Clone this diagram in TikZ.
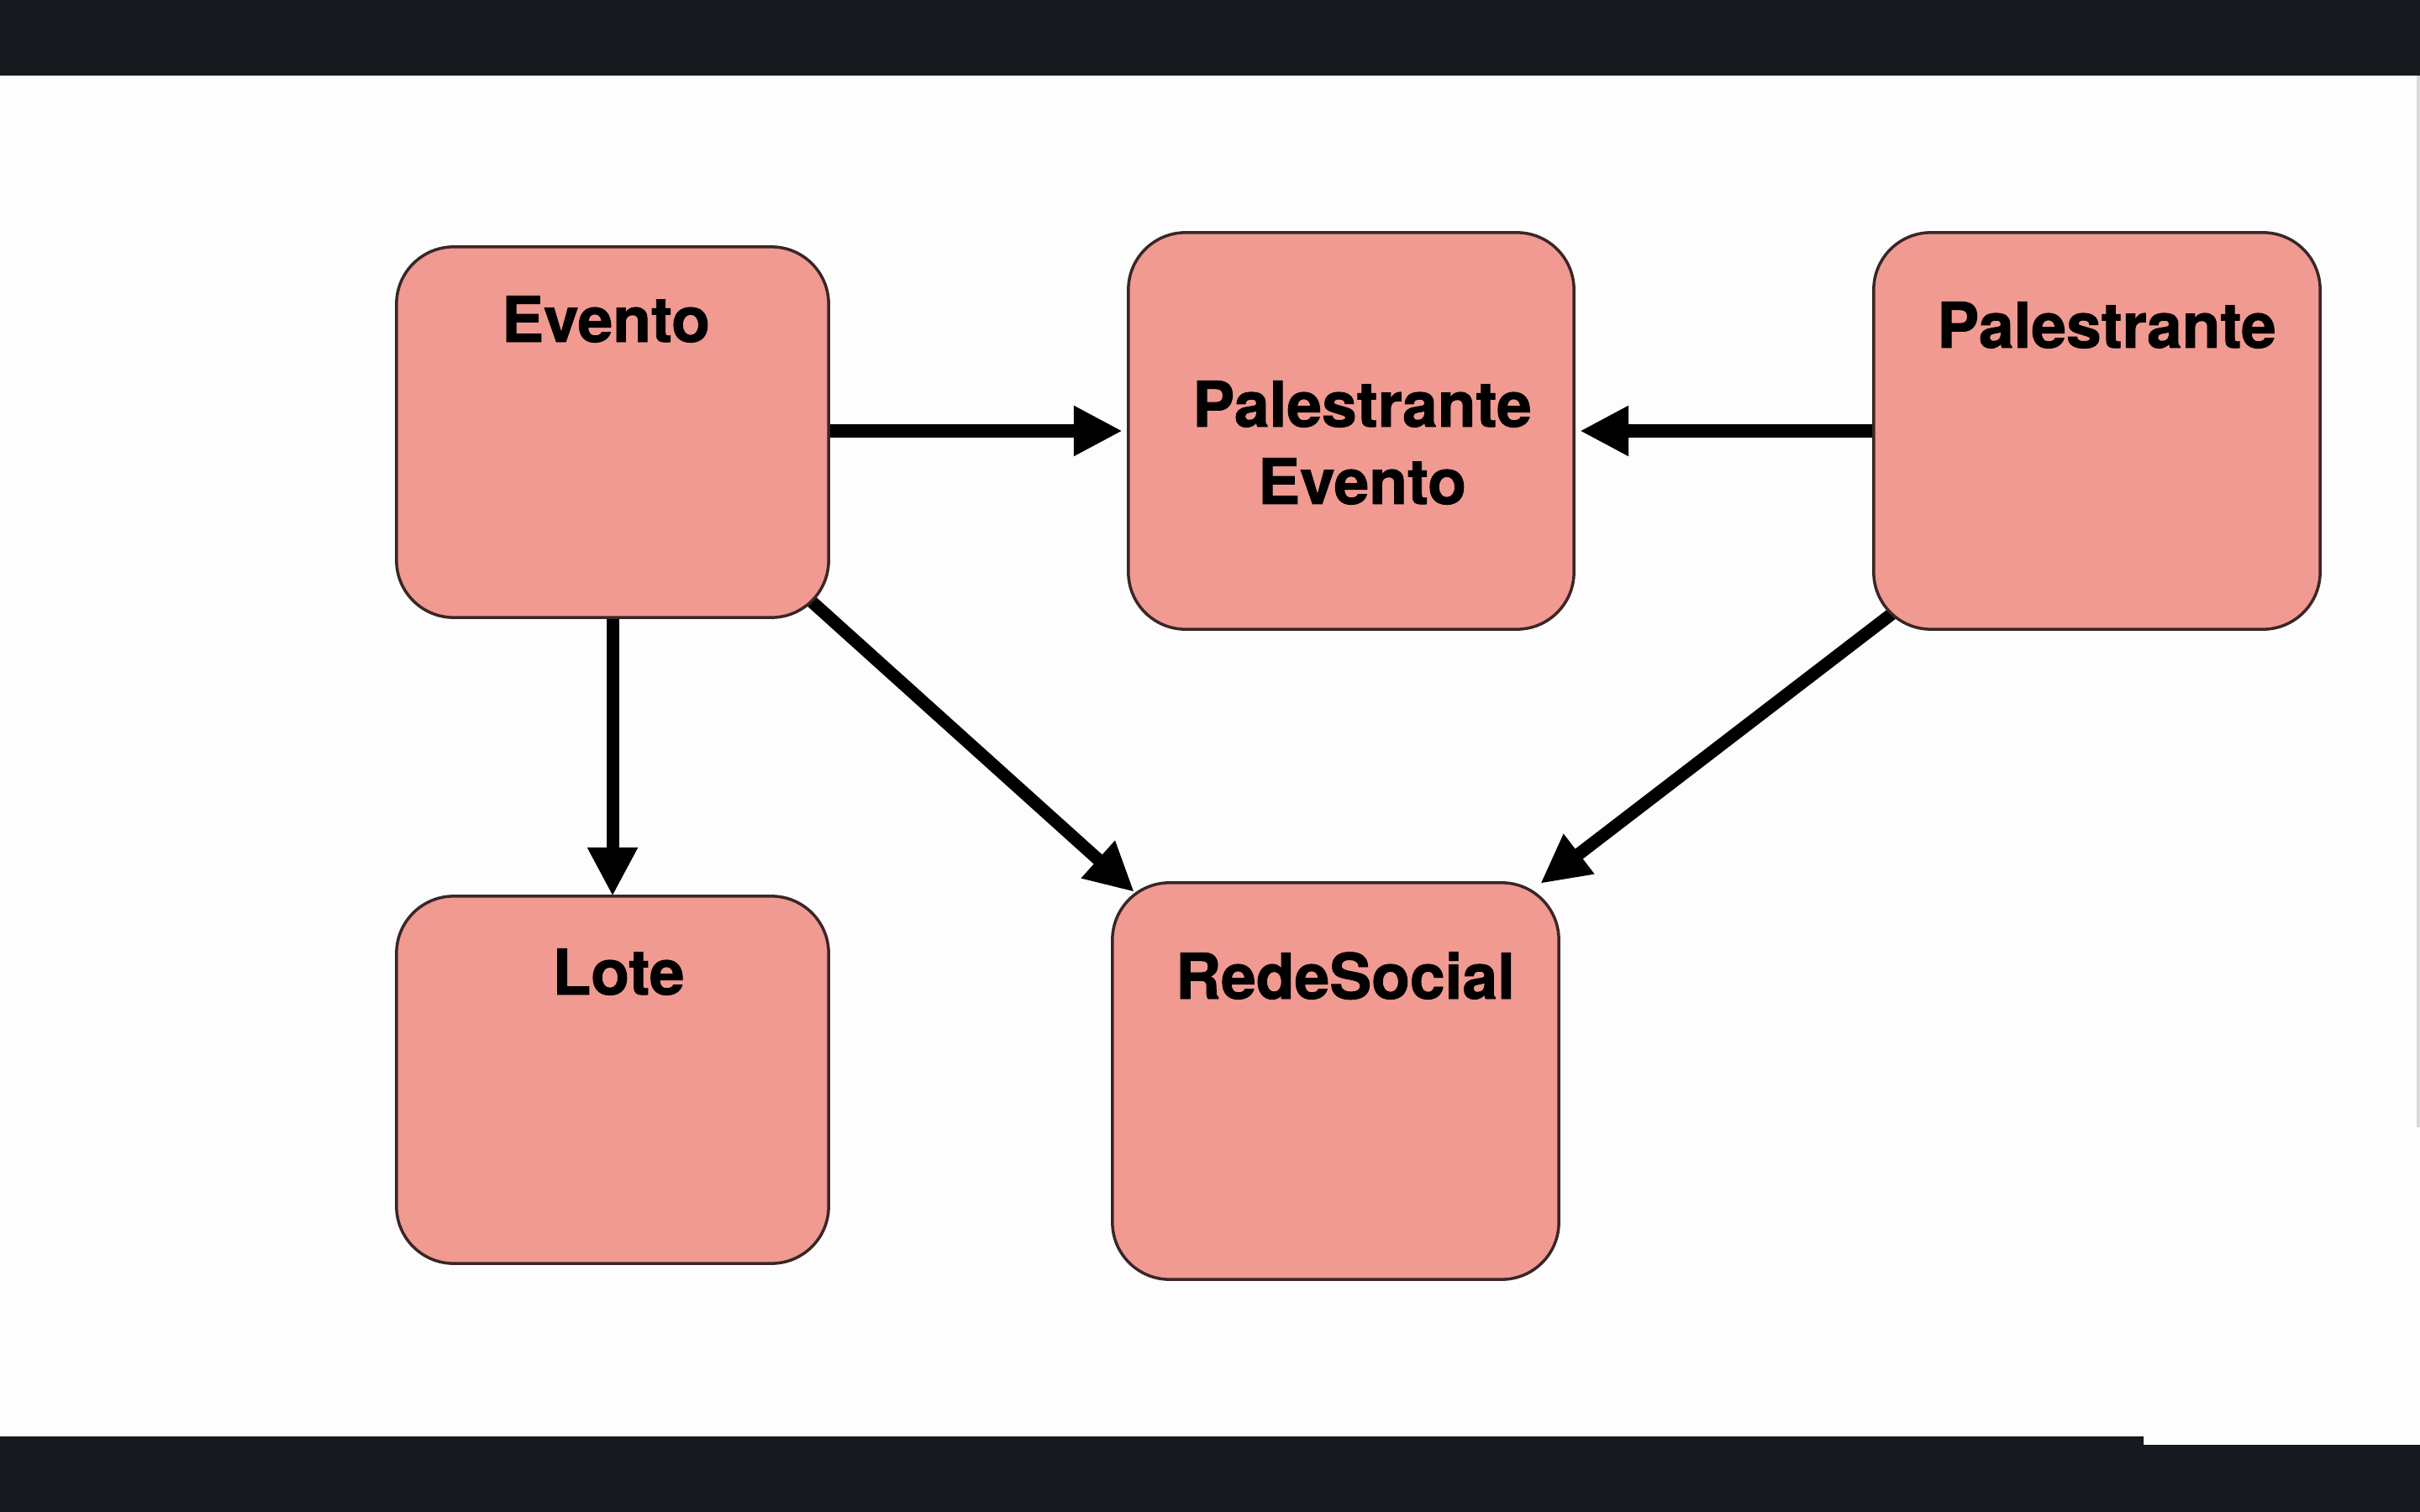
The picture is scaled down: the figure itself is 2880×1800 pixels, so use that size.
\documentclass[tikz,border=0pt]{standalone}
\usepackage{fontspec}
\setmainfont{TeX Gyre Heros}[BoldFeatures={FakeBold=1.2}]
\usetikzlibrary{arrows.meta,calc,backgrounds}
\definecolor{boxfill}{HTML}{F09A91}
\definecolor{boxline}{HTML}{3A2626}
\definecolor{barcol}{HTML}{16191E}
\definecolor{bgcol}{HTML}{FDFDFD}
\begin{document}
\begin{tikzpicture}[x=0.01cm,y=-0.01cm,
  entity/.style={draw=boxline, fill=boxfill, line width=0.035cm, rounded corners=0.68cm,
    inner sep=0pt, outer sep=0pt},
  title/.style={font=\bfseries\fontsize{21.3}{25}\selectfont, anchor=base, inner sep=0pt, text=black},
  conn/.style={line width=0.15cm, -{Triangle[length=0.58cm,width=0.56cm]}}]
\useasboundingbox (0,0) rectangle (2880,1800);

\node[entity, minimum width=5.14cm, minimum height=4.41cm] (ev) at (729,514.5) {};
\node[entity, minimum width=5.30cm, minimum height=4.72cm] (pe) at (1608,513) {};
\node[entity, minimum width=5.31cm, minimum height=4.72cm] (pa) at (2495.5,513) {};
\node[entity, minimum width=5.14cm, minimum height=4.37cm] (lo) at (729,1285.5) {};
\node[entity, minimum width=5.31cm, minimum height=4.72cm] (rs) at (1589.5,1287) {};

\node[title] (tev) at (721,407) {Evento};
\node[title] (tpe1) at (1621,508) {Palestrante};
\node[title] (tpe2) at (1621,600) {Evento};
\node[title] (tpa) at (2507,414) {Palestrante};
\node[title] (tlo) at (736,1184) {Lote};
\node[title] (trs) at (1601,1189) {RedeSocial};

\begin{scope}[on background layer]
\fill[bgcol] (0,0) rectangle (2880,1800);
\fill[barcol] (0,0) rectangle (2880,90);
\fill[barcol] (0,1710) -- (2551,1710) -- (2551,1720) -- (2880,1720) -- (2880,1800) -- (0,1800) -- cycle;
\fill[gray!30] (2876,90) rectangle (2880,1342);
\draw[conn, shorten >=0.07cm] (ev.east |- pe.west) -- (pe.west);
\draw[conn, shorten >=0.07cm] (pa.west) -- (pe.east);
\draw[conn] (ev.south) -- (lo.north);
\draw[conn] ($(ev.south east)+(-63,-57.5)$) -- ($(rs.north west)+(26,11)$);
\draw[conn] ($(pa.south west)+(68,-54)$) -- ($(rs.north east)+(-22,1)$);
\end{scope}
\end{tikzpicture}
\end{document}
